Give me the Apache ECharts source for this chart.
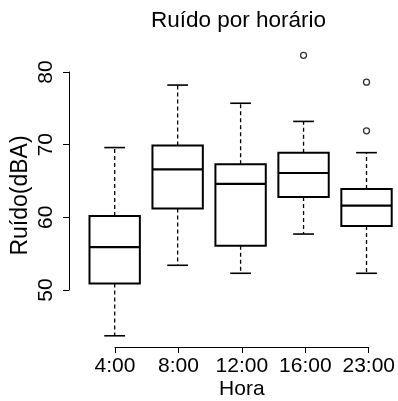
<!DOCTYPE html>
<html>
<head>
<meta charset="utf-8">
<script src="https://cdn.jsdelivr.net/npm/echarts@6/dist/echarts.min.js"></script>
<style>html,body{margin:0;padding:0;background:#fff}#c{width:398px;height:401px}</style>
</head>
<body>
<div id="c"></div>
<script>
const categories = ['4:00', '8:00', '12:00', '16:00', '23:00'];
const lowerWhisker = [43.7, 53.4, 52.3, 57.7, 52.3];
const q1 = [50.9, 61.2, 56.1, 62.8, 58.8];
const median = [55.9, 66.6, 64.6, 66.1, 61.6];
const q3 = [60.2, 69.9, 67.3, 68.9, 63.9];
const upperWhisker = [69.6, 78.2, 75.7, 73.2, 68.9];
const outliers = [[3, 82.3], [4, 78.6], [4, 71.9]];
const yTicks = [50, 60, 70, 80];

const FONT = "'Liberation Sans', Arial, sans-serif";
const boxData = categories.map((c, i) => [i, lowerWhisker[i], q1[i], median[i], q3[i], upperWhisker[i]]);

function renderItem(params, api) {
  const x = api.value(0);
  const lo = api.coord([x, api.value(1)]);
  const b1 = api.coord([x, api.value(2)]);
  const md = api.coord([x, api.value(3)]);
  const b3 = api.coord([x, api.value(4)]);
  const hi = api.coord([x, api.value(5)]);
  const band = api.size([1, 0])[0];
  const half = band * 0.8 / 2;
  const st = band * 0.33 / 2;
  const cx = lo[0];
  const solid = {stroke: '#000', lineWidth: 1.6};
  const dash = {stroke: '#000', lineWidth: 1.3, lineDash: [4, 3]};
  return {
    type: 'group',
    children: [
      {type: 'line', shape: {x1: cx, y1: b3[1], x2: cx, y2: hi[1]}, style: dash},
      {type: 'line', shape: {x1: cx, y1: b1[1], x2: cx, y2: lo[1]}, style: dash},
      {type: 'line', shape: {x1: cx - st, y1: hi[1], x2: cx + st, y2: hi[1]}, style: solid},
      {type: 'line', shape: {x1: cx - st, y1: lo[1], x2: cx + st, y2: lo[1]}, style: solid},
      {type: 'rect', shape: {x: cx - half, y: b3[1], width: half * 2, height: b1[1] - b3[1]},
        style: {fill: '#fff', stroke: '#000', lineWidth: 2}},
      {type: 'line', shape: {x1: cx - half, y1: md[1], x2: cx + half, y2: md[1]}, style: {stroke: '#000', lineWidth: 2.2}}
    ]
  };
}

const chart = echarts.init(document.getElementById('c'), null, {renderer: 'canvas'});
chart.setOption({
  backgroundColor: '#fff',
  animation: false,
  title: {
    text: 'Ruído por horário', left: 146, top: 4,
    textStyle: {fontFamily: FONT, fontSize: 22.5, fontWeight: 'normal', color: '#000'}
  },
  grid: [
    {left: 83.2, top: 42.93, width: 318.25, height: 305.2},
    {left: 69, top: 72, width: 10, height: 218},
    {left: 115, top: 300, width: 254.6, height: 47.3}
  ],
  xAxis: [
    {gridIndex: 0, type: 'category', data: categories, show: false},
    {gridIndex: 1, type: 'value', show: false},
    {gridIndex: 2, type: 'category', data: categories, boundaryGap: false,
      axisLine: {lineStyle: {color: '#000', width: 1}},
      axisTick: {length: 6, interval: 0, lineStyle: {color: '#000', width: 1}},
      axisLabel: {interval: 0, hideOverlap: false, fontFamily: FONT, fontSize: 21, color: '#000', margin: 9},
      splitLine: {show: false},
      name: 'Hora', nameLocation: 'middle', nameGap: 32,
      nameTextStyle: {fontFamily: FONT, fontSize: 21, color: '#000'}}
  ],
  yAxis: [
    {gridIndex: 0, type: 'value', min: 42, max: 84,
      axisLine: {show: false}, axisTick: {show: false}, axisLabel: {show: false}, splitLine: {show: false},
      name: 'Ruído(dBA)', nameLocation: 'middle', nameGap: 51, nameRotate: 90,
      nameTextStyle: {fontFamily: FONT, fontSize: 23, color: '#000'}},
    {gridIndex: 1, type: 'value', min: yTicks[0], max: yTicks[yTicks.length - 1], interval: 10,
      axisLine: {show: true, lineStyle: {color: '#000', width: 1}},
      axisTick: {show: true, length: 6, lineStyle: {color: '#000', width: 1}},
      axisLabel: {rotate: 90, fontFamily: FONT, fontSize: 21, color: '#000', margin: 12},
      splitLine: {show: false}},
    {gridIndex: 2, type: 'value', show: false}
  ],
  series: [
    {type: 'custom', xAxisIndex: 0, yAxisIndex: 0, renderItem: renderItem, data: boxData,
      encode: {x: 0, y: [1, 2, 3, 4, 5]}, clip: false},
    {type: 'scatter', xAxisIndex: 0, yAxisIndex: 0, data: outliers, symbol: 'circle', symbolSize: 6,
      itemStyle: {color: '#fff', borderColor: '#000', borderWidth: 1.3}}
  ]
});
</script>
</body>
</html>
